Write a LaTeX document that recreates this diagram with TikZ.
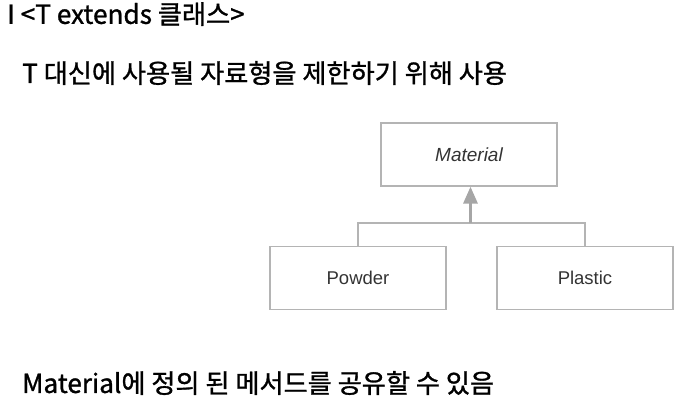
\documentclass[tikz,border=0pt]{standalone}
\usepackage{fontspec}
\setmainfont{Noto Sans CJK KR}[FakeBold=1.1]
\newfontfamily\boxfont{Liberation Sans}
\usetikzlibrary{arrows.meta}
\definecolor{boxgray}{HTML}{B4B4B4}
\definecolor{arrowgray}{HTML}{A6A6A6}
\definecolor{txtgray}{HTML}{333333}
\tikzset{
  umlbox/.style={draw=boxgray, line width=1.3pt, minimum width=176pt, minimum height=63pt, inner sep=0pt, font=\boxfont\fontsize{18.5}{22}\selectfont, text=txtgray},
  heading/.style={anchor=west, inner sep=0pt, font=\fontsize{26.2}{30}\selectfont, text=black},
  link/.style={draw=boxgray, line width=1.3pt},
}
\begin{document}
\begin{tikzpicture}[x=1pt,y=-1pt]
\useasboundingbox (0,0) rectangle (686,410);
\node[heading] (title) at (7,14) {I <T extends 클래스>};
\node[heading] (desc) at (22,73) {T 대신에 사용될 자료형을 제한하기 위해 사용};
\node[umlbox] (mat) at (469,154.5) {\itshape\fontsize{19}{22}\selectfont Material};
\node[umlbox] (pow) at (358,278) {Powder};
\node[umlbox] (pla) at (585,278) {Plastic};
\coordinate (join) at (470.5,223);
\draw[link] (pow.north) |- (join) -| (pla.north);
\draw[draw=arrowgray, line width=3.2pt, -{Triangle[length=17pt,width=14pt]}] (join) -- (join |- mat.south);
\node[heading] (note) at (22,383) {Material에 정의 된 메서드를 공유할 수 있음};
\end{tikzpicture}
\end{document}
